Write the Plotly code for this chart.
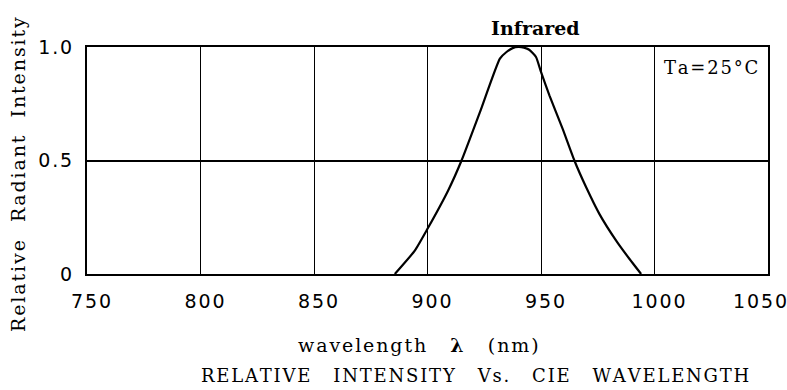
import plotly.graph_objects as go

wavelength = [885.6, 894.4, 900, 909.1, 915, 923.1, 931.9, 934.8, 937.5, 940, 942.5, 944.8, 947.8, 950, 953.7, 959.5, 964.7, 969.9, 975.7, 983.1, 989, 994.1]
intensity = [0.0, 0.103, 0.199, 0.368, 0.5, 0.713, 0.949, 0.978, 0.995, 1.0, 0.997, 0.988, 0.956, 0.89, 0.787, 0.64, 0.5, 0.382, 0.265, 0.147, 0.066, 0.0]

x_ticks = [750, 800, 850, 900, 950, 1000, 1050]
y_ticks = [0, 0.5, 1.0]
y_labels = ["0", "0.5", "1.0"]

HAIR = "\u200a"
NB = "\u00a0"


def spaced(s, gap=2):
    words = s.split(" ")
    return (NB * gap).join(HAIR.join(list(w)) for w in words)


FONT = "DejaVu Serif"
NUMFONT = "DejaVu Sans"

fig = go.Figure()
fig.add_trace(go.Scatter(x=wavelength, y=intensity, mode="lines",
                         line=dict(color="black", width=2.2, shape="spline", smoothing=0.5),
                         hoverinfo="skip", showlegend=False))
# invisible companion trace so the overlaid axis (last tick label) is drawn
fig.add_trace(go.Scatter(x=[x_ticks[0], x_ticks[-1]], y=[0, 0], mode="lines", xaxis="x2",
                         line=dict(width=0), opacity=0, hoverinfo="skip", showlegend=False))

fig.update_layout(
    width=787, height=390,
    margin=dict(l=87, r=19, t=47, b=116),
    paper_bgcolor="white", plot_bgcolor="white",
    font=dict(family=FONT, color="black"),
    xaxis=dict(range=[750, 1050], tickvals=x_ticks[:-1], ticktext=[spaced(str(v)) for v in x_ticks[:-1]],
               showgrid=True, gridcolor="black", gridwidth=1, zeroline=False,
               showline=True, linecolor="black", linewidth=2, mirror=True,
               ticks="", tickfont=dict(family=NUMFONT, size=19), ticklabelstandoff=9,
               ticklabelshift=4, automargin=False),
    xaxis2=dict(range=[750, 1050], overlaying="x", side="bottom", anchor="y",
                tickvals=[x_ticks[-1]], ticktext=[spaced(str(x_ticks[-1]))],
                showgrid=False, zeroline=False, showline=True, linecolor="black", linewidth=2,
                ticks="", tickfont=dict(family=NUMFONT, size=19), ticklabelstandoff=9,
                ticklabelshift=-8, ticklabeloverflow="allow", automargin=False),
    yaxis=dict(range=[0, 1], tickvals=y_ticks, ticktext=[spaced(v) for v in y_labels],
               showgrid=True, gridcolor="black", gridwidth=2, zeroline=False,
               showline=True, linecolor="black", linewidth=2, mirror=True,
               ticks="", tickfont=dict(family=NUMFONT, size=19), ticklabelstandoff=9,
               ticklabeloverflow="allow", automargin=False),
)

L, R, T, B = 87, 768, 47, 274


def add_text(text, px, py, size, angle=0):
    fig.add_annotation(text=text, x=(px - L) / (R - L), y=(B - py) / (B - T),
                       xref="paper", yref="paper", textangle=angle,
                       showarrow=False, font=dict(family=FONT, size=size, color="black"),
                       xanchor="center", yanchor="middle")


add_text("<b>Infrared</b>", 535, 28, 19)
add_text(spaced("Ta=25\u00b0C"), 711, 67, 18)
add_text(spaced("wavelength") + NB * 4 + "<b>\u03bb</b>" + NB * 4 + spaced("(nm)"), 418, 345, 19)
add_text(spaced("RELATIVE INTENSITY Vs. CIE WAVELENGTH", 4), 475, 375, 18)
add_text(spaced("Relative Radiant Intensity", 3), 18, 175, 19, angle=-90)

fig.write_html("out.html", config={"displayModeBar": False},
               post_script="document.body.style.margin='0';")
